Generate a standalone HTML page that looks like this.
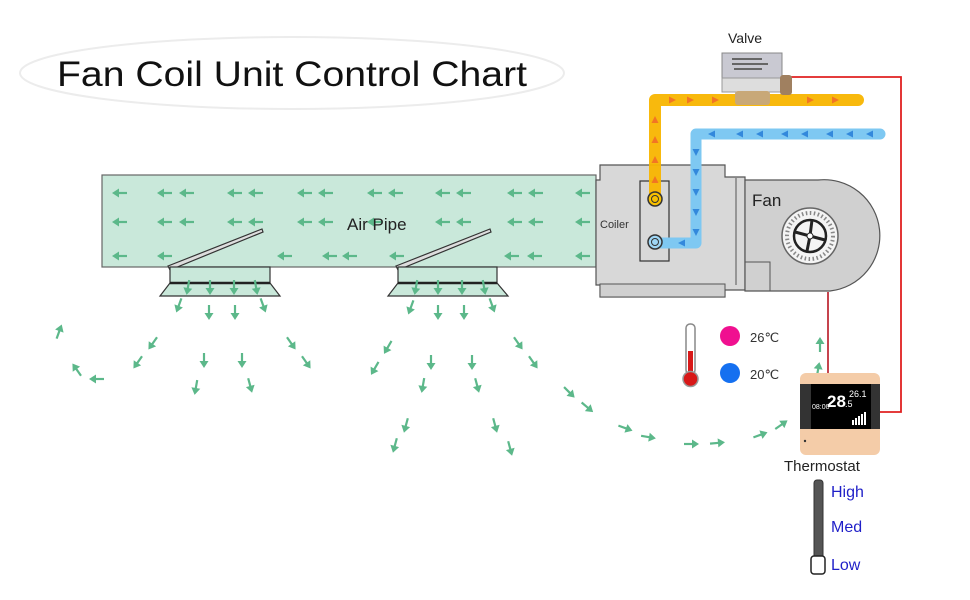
<!DOCTYPE html>
<html><head><meta charset="utf-8"><style>
html,body{margin:0;padding:0;background:#fff;}
svg{display:block;font-family:"Liberation Sans",sans-serif;}
</style></head><body>
<svg width="970" height="600" viewBox="0 0 970 600" xmlns="http://www.w3.org/2000/svg">
<defs>
<g id="a"><line x1="-7" y1="0" x2="2" y2="0" stroke="#5cb88a" stroke-width="2.2"/><polygon points="1,-4.5 8,0 1,4.5" fill="#5cb88a"/></g>
<g id="o"><polygon points="-3,-3.5 4,0 -3,3.5" fill="#f0642a" opacity="0.8"/></g>
<g id="b"><polygon points="-3,-3.5 4,0 -3,3.5" fill="#1f78d6" opacity="0.8"/></g>
</defs>
<!-- title -->
<ellipse cx="292" cy="73" rx="272" ry="36" fill="none" stroke="#ececec" stroke-width="2"/>
<text x="57" y="86" font-size="35" fill="#111" textLength="470" lengthAdjust="spacingAndGlyphs">Fan Coil Unit Control Chart</text>

<!-- air pipe -->
<rect x="102" y="175" width="494" height="92" fill="#c9e8da" stroke="#666" stroke-width="1.2"/>
<g>
<use href="#a" transform="translate(120,193) rotate(180)"/><use href="#a" transform="translate(165,193) rotate(180)"/><use href="#a" transform="translate(187,193) rotate(180)"/><use href="#a" transform="translate(235,193) rotate(180)"/><use href="#a" transform="translate(256,193) rotate(180)"/><use href="#a" transform="translate(305,193) rotate(180)"/><use href="#a" transform="translate(326,193) rotate(180)"/><use href="#a" transform="translate(375,193) rotate(180)"/><use href="#a" transform="translate(396,193) rotate(180)"/><use href="#a" transform="translate(443,193) rotate(180)"/><use href="#a" transform="translate(464,193) rotate(180)"/><use href="#a" transform="translate(515,193) rotate(180)"/><use href="#a" transform="translate(536,193) rotate(180)"/><use href="#a" transform="translate(583,193) rotate(180)"/>
<use href="#a" transform="translate(120,222) rotate(180)"/><use href="#a" transform="translate(165,222) rotate(180)"/><use href="#a" transform="translate(187,222) rotate(180)"/><use href="#a" transform="translate(235,222) rotate(180)"/><use href="#a" transform="translate(256,222) rotate(180)"/><use href="#a" transform="translate(305,222) rotate(180)"/><use href="#a" transform="translate(326,222) rotate(180)"/><use href="#a" transform="translate(375,222) rotate(180)"/><use href="#a" transform="translate(443,222) rotate(180)"/><use href="#a" transform="translate(464,222) rotate(180)"/><use href="#a" transform="translate(515,222) rotate(180)"/><use href="#a" transform="translate(536,222) rotate(180)"/><use href="#a" transform="translate(583,222) rotate(180)"/>
<use href="#a" transform="translate(120,256) rotate(180)"/><use href="#a" transform="translate(165,256) rotate(180)"/><use href="#a" transform="translate(285,256) rotate(180)"/><use href="#a" transform="translate(330,256) rotate(180)"/><use href="#a" transform="translate(350,256) rotate(180)"/><use href="#a" transform="translate(397,256) rotate(180)"/><use href="#a" transform="translate(512,256) rotate(180)"/><use href="#a" transform="translate(535,256) rotate(180)"/><use href="#a" transform="translate(583,256) rotate(180)"/>
</g>
<text x="347" y="230" font-size="17" fill="#222">Air Pipe</text>

<!-- dampers -->
<polygon points="168,266 262,229 263,232 170,270" fill="#ddd" stroke="#333" stroke-width="1.2"/>
<polygon points="396,266 490,229 491,232 398,270" fill="#ddd" stroke="#333" stroke-width="1.2"/>
<!-- diffusers -->
<g fill="#c9e8da" stroke="#333" stroke-width="1.2">
<rect x="170" y="267" width="100" height="16"/>
<polygon points="170,283 270,283 280,296 160,296"/>
<rect x="398" y="267" width="99" height="16"/>
<polygon points="398,283 497,283 508,296 388,296"/>
</g>
<line x1="170" y1="283" x2="270" y2="283" stroke="#222" stroke-width="2.5"/>
<line x1="398" y1="283" x2="497" y2="283" stroke="#222" stroke-width="2.5"/>
<g>
<use href="#a" transform="translate(188,287) rotate(100)"/><use href="#a" transform="translate(210,287) rotate(90)"/><use href="#a" transform="translate(234,287) rotate(90)"/><use href="#a" transform="translate(256,287) rotate(80)"/>
<use href="#a" transform="translate(416,287) rotate(100)"/><use href="#a" transform="translate(438,287) rotate(90)"/><use href="#a" transform="translate(462,287) rotate(90)"/><use href="#a" transform="translate(484,287) rotate(80)"/>
</g>

<!-- scattered air arrows -->
<g>
<use href="#a" transform="translate(179,305) rotate(110)"/><use href="#a" transform="translate(209,312) rotate(90)"/><use href="#a" transform="translate(235,312) rotate(90)"/><use href="#a" transform="translate(263,305) rotate(70)"/>
<use href="#a" transform="translate(411,307) rotate(110)"/><use href="#a" transform="translate(438,312) rotate(90)"/><use href="#a" transform="translate(464,312) rotate(90)"/><use href="#a" transform="translate(492,305) rotate(70)"/>
<use href="#a" transform="translate(59,332) rotate(-70)"/><use href="#a" transform="translate(77,370) rotate(-125)"/><use href="#a" transform="translate(97,379) rotate(180)"/>
<use href="#a" transform="translate(153,343) rotate(125)"/><use href="#a" transform="translate(138,362) rotate(125)"/>
<use href="#a" transform="translate(204,360) rotate(90)"/><use href="#a" transform="translate(196,387) rotate(100)"/>
<use href="#a" transform="translate(242,360) rotate(90)"/><use href="#a" transform="translate(250,385) rotate(75)"/>
<use href="#a" transform="translate(291,343) rotate(55)"/><use href="#a" transform="translate(306,362) rotate(55)"/>
<use href="#a" transform="translate(388,347) rotate(120)"/><use href="#a" transform="translate(375,368) rotate(120)"/>
<use href="#a" transform="translate(431,362) rotate(90)"/><use href="#a" transform="translate(423,385) rotate(100)"/>
<use href="#a" transform="translate(472,362) rotate(90)"/><use href="#a" transform="translate(477,385) rotate(75)"/>
<use href="#a" transform="translate(406,425) rotate(105)"/><use href="#a" transform="translate(395,445) rotate(105)"/>
<use href="#a" transform="translate(495,425) rotate(75)"/><use href="#a" transform="translate(510,448) rotate(75)"/>
<use href="#a" transform="translate(518,343) rotate(55)"/><use href="#a" transform="translate(533,362) rotate(55)"/>
<use href="#a" transform="translate(569,392) rotate(45)"/><use href="#a" transform="translate(587,407) rotate(40)"/>
<use href="#a" transform="translate(625,428) rotate(20)"/><use href="#a" transform="translate(648,437) rotate(10)"/>
<use href="#a" transform="translate(691,444) rotate(0)"/><use href="#a" transform="translate(717,443) rotate(-5)"/>
<use href="#a" transform="translate(760,435) rotate(-20)"/><use href="#a" transform="translate(781,425) rotate(-35)"/>
<use href="#a" transform="translate(820,345) rotate(-90)"/><use href="#a" transform="translate(818,370) rotate(-80)"/>
</g>

<!-- coiler unit -->
<path d="M600,165 L725,165 L725,177 L745,177 L745,290 L725,290 L725,297 L600,297 L600,285 L596,285 L596,180 L600,180 Z" fill="#d8d8d8" stroke="#555" stroke-width="1.2"/>
<path d="M736,178 L736,285" stroke="#555" stroke-width="1" fill="none"/>
<rect x="600" y="284" width="125" height="13" fill="#d0d0d0" stroke="#555" stroke-width="1"/>
<rect x="640" y="181" width="29" height="80" fill="#d8d8d8" stroke="#333" stroke-width="1.2"/>
<text x="600" y="228" font-size="11" fill="#333">Coiler</text>

<!-- fan housing -->
<path d="M745,180 L818,180 A55,55 0 1 1 830,291 L745,291 Z" fill="#d0d0d0" stroke="#555" stroke-width="1.2"/>
<path d="M745,262 L770,262 L770,291" fill="none" stroke="#555" stroke-width="1"/>
<text x="752" y="206" font-size="17" fill="#222">Fan</text>
<circle cx="810" cy="236" r="28" fill="#f4f4f4" stroke="#666" stroke-width="1.5"/>
<circle cx="810" cy="236" r="23" fill="none" stroke="#888" stroke-width="4" stroke-dasharray="1.5 2.5"/>
<circle cx="810" cy="236" r="16" fill="none" stroke="#222" stroke-width="2.5"/>
<g stroke="#222" stroke-width="3"><line x1="810" y1="236" x2="812" y2="220"/><line x1="810" y1="236" x2="825" y2="240"/><line x1="810" y1="236" x2="807" y2="251"/><line x1="810" y1="236" x2="795" y2="232"/></g>
<circle cx="810" cy="236" r="3" fill="#fff" stroke="#222"/>

<!-- red wires -->
<path d="M785,77 L901,77 L901,412 L880,412" fill="none" stroke="#e02020" stroke-width="1.8"/>
<path d="M828,292 L828,375" fill="none" stroke="#c0303a" stroke-width="1.8"/>

<!-- pipes -->
<path d="M655,195 L655,100 L858,100" fill="none" stroke="#f8b500" stroke-width="12" stroke-linecap="round" stroke-linejoin="round" opacity="0.95"/>
<path d="M880,134 L696,134 L696,243 L660,243" fill="none" stroke="#7ec8f2" stroke-width="11" stroke-linecap="round" stroke-linejoin="round"/>
<g>
<use href="#o" transform="translate(655,180) rotate(-90)"/><use href="#o" transform="translate(655,160) rotate(-90)"/><use href="#o" transform="translate(655,140) rotate(-90)"/><use href="#o" transform="translate(655,120) rotate(-90)"/>
<use href="#o" transform="translate(672,100)"/><use href="#o" transform="translate(690,100)"/><use href="#o" transform="translate(715,100)"/><use href="#o" transform="translate(810,100)"/><use href="#o" transform="translate(835,100)"/>
<use href="#b" transform="translate(870,134) rotate(180)"/><use href="#b" transform="translate(850,134) rotate(180)"/><use href="#b" transform="translate(830,134) rotate(180)"/><use href="#b" transform="translate(805,134) rotate(180)"/><use href="#b" transform="translate(785,134) rotate(180)"/><use href="#b" transform="translate(760,134) rotate(180)"/><use href="#b" transform="translate(740,134) rotate(180)"/><use href="#b" transform="translate(712,134) rotate(180)"/>
<use href="#b" transform="translate(696,152) rotate(90)"/><use href="#b" transform="translate(696,172) rotate(90)"/><use href="#b" transform="translate(696,192) rotate(90)"/><use href="#b" transform="translate(696,212) rotate(90)"/><use href="#b" transform="translate(696,232) rotate(90)"/>
<use href="#b" transform="translate(682,243) rotate(180)"/>
</g>
<circle cx="655" cy="199" r="7" fill="#f8c000" stroke="#333" stroke-width="1.5"/><circle cx="655" cy="199" r="3.5" fill="none" stroke="#333"/>
<circle cx="655" cy="242" r="7" fill="#9fd6f5" stroke="#333" stroke-width="1.5"/><circle cx="655" cy="242" r="3.5" fill="none" stroke="#333"/>

<!-- valve -->
<text x="728" y="43" font-size="14" fill="#222">Valve</text>
<rect x="722" y="53" width="60" height="25" fill="#c9c9d2" stroke="#888"/>
<rect x="722" y="78" width="60" height="14" fill="#ddd" stroke="#999"/>
<rect x="735" y="91" width="35" height="14" fill="#c8a878" rx="3"/>
<rect x="780" y="75" width="12" height="20" fill="#a08060" rx="3"/>
<g fill="#666"><rect x="732" y="58" width="30" height="2"/><rect x="732" y="63" width="36" height="2"/><rect x="734" y="68" width="28" height="2"/></g>

<!-- thermometer & legend -->
<rect x="686" y="324" width="9" height="50" rx="4" fill="#fff" stroke="#888" stroke-width="1.5"/>
<rect x="688" y="351" width="5" height="26" fill="#d81818"/>
<circle cx="690.5" cy="379" r="7.5" fill="#d81818" stroke="#999" stroke-width="1.5"/>
<circle cx="730" cy="336" r="10" fill="#f01090"/>
<circle cx="730" cy="373" r="10" fill="#1570f0"/>
<text x="750" y="342" font-size="13" fill="#333">26℃</text>
<text x="750" y="379" font-size="13" fill="#333">20℃</text>

<!-- thermostat -->
<rect x="800" y="373" width="80" height="82" rx="6" fill="#f4cca8"/>
<rect x="800" y="384" width="80" height="45" fill="#333"/>
<rect x="811" y="384" width="60" height="45" fill="#000"/>
<text x="827" y="407" font-size="17" fill="#fff" font-weight="bold">28</text>
<text x="845" y="407" font-size="9" fill="#fff">.5</text>
<text x="849" y="397" font-size="9" fill="#fff">26.1</text>
<text x="812" y="409" font-size="7" fill="#fff">08:00</text>
<g fill="#fff"><rect x="852" y="420" width="2" height="5"/><rect x="855" y="418" width="2" height="7"/><rect x="858" y="416" width="2" height="9"/><rect x="861" y="414" width="2" height="11"/><rect x="864" y="412" width="2" height="13"/></g>
<circle cx="805" cy="441" r="1.2" fill="#333"/>
<text x="784" y="471" font-size="15" fill="#222">Thermostat</text>

<!-- speed slider -->
<rect x="814" y="480" width="9" height="80" rx="3" fill="#555" stroke="#333"/>
<rect x="811" y="556" width="14" height="18" rx="3" fill="#fff" stroke="#222" stroke-width="1.5"/>
<text x="831" y="497" font-size="16" fill="#1f1fc8">High</text>
<text x="831" y="532" font-size="16" fill="#1f1fc8">Med</text>
<text x="831" y="570" font-size="16" fill="#1f1fc8">Low</text>
</svg>
</body></html>
